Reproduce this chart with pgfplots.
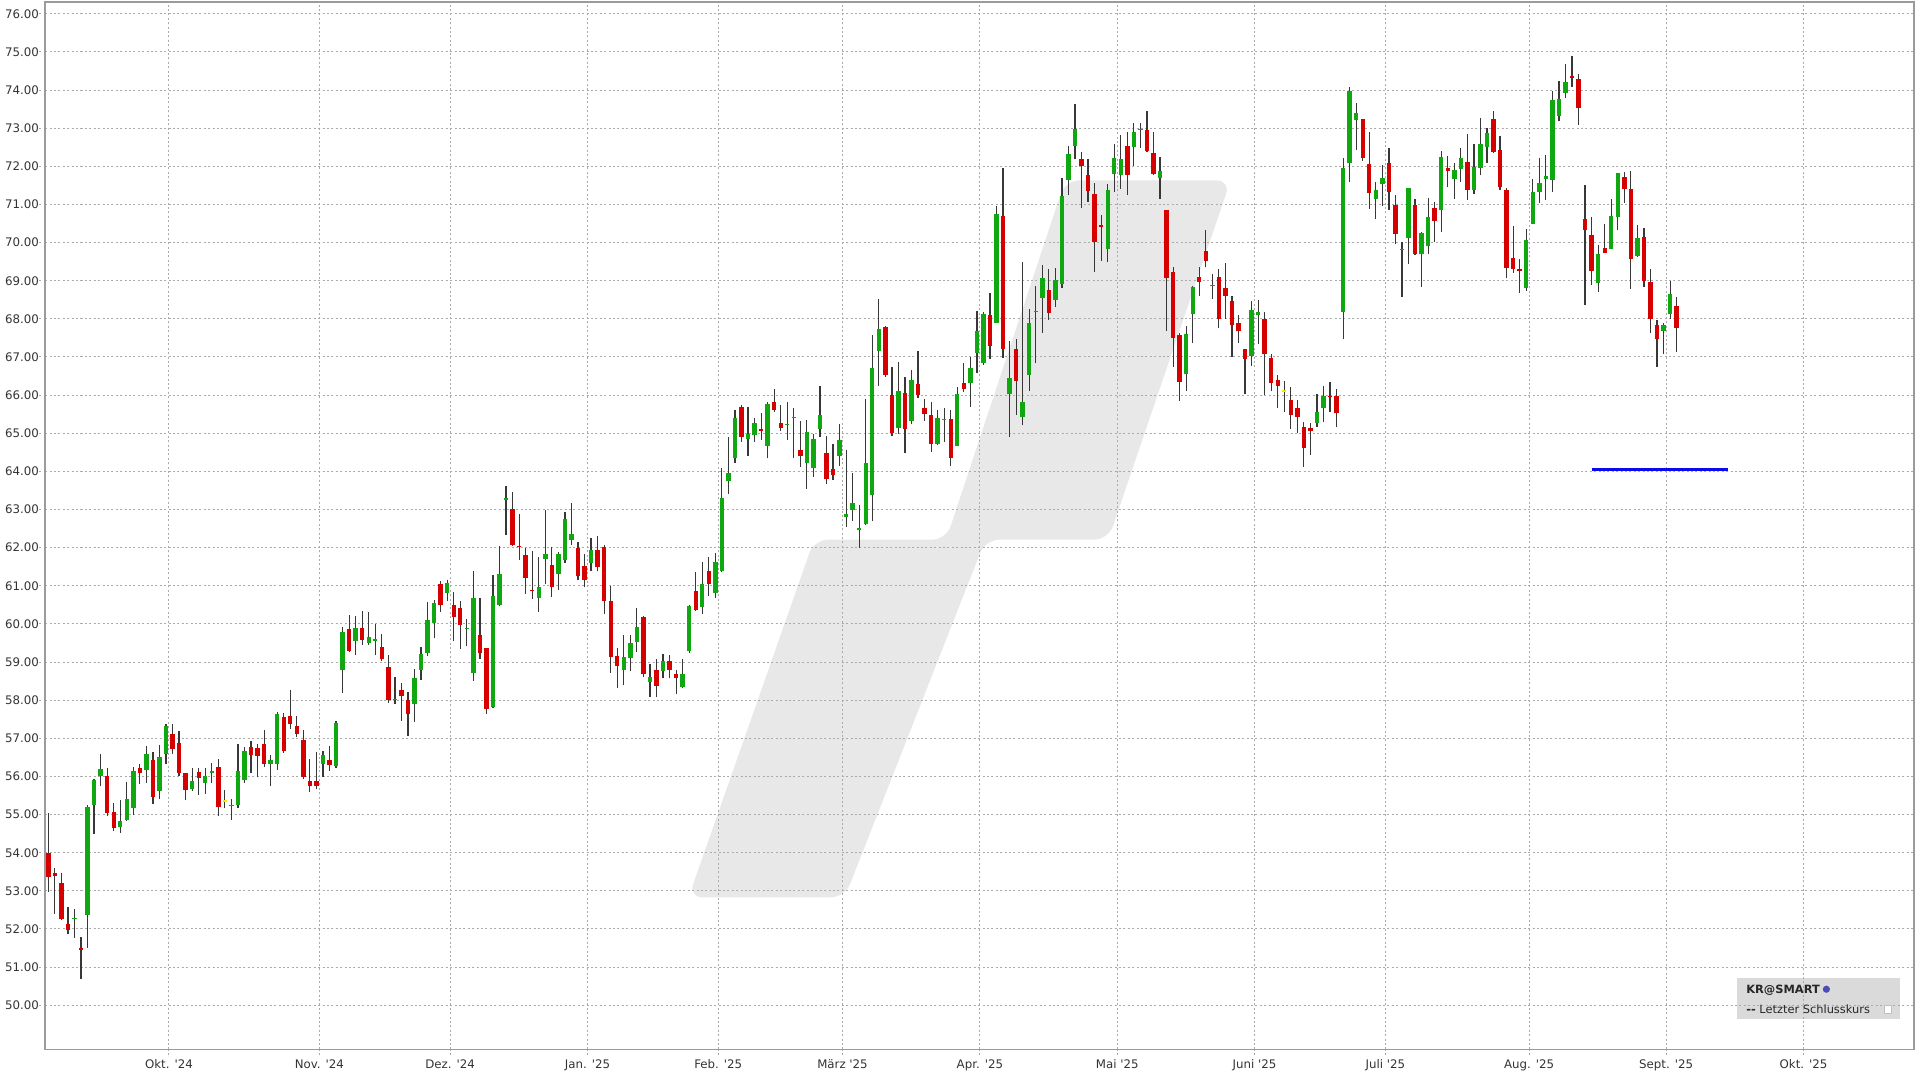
\documentclass[border=0pt]{standalone}
\usepackage{fontspec}
\setmainfont{DejaVu Sans}
\usepackage{pgfplots}
\pgfplotsset{compat=1.18}
\usepackage{pgfplotstable}
\definecolor{cgreen}{RGB}{16,168,16}
\definecolor{cred}{RGB}{214,0,0}
\definecolor{cwick}{RGB}{55,55,55}
\definecolor{cyel}{RGB}{250,230,0}
\definecolor{gridc}{RGB}{170,170,170}
\definecolor{framec}{RGB}{155,155,155}
\definecolor{wm}{RGB}{232,232,232}
\definecolor{legbg}{RGB}{218,218,218}
\definecolor{cblue}{RGB}{10,10,235}
\newcommand{\q}{\textquotesingle}

\pgfplotstableread{
x o h l c
1 53.98 55.04 52.97 53.36
2 53.47 53.60 52.40 53.40
3 53.21 53.47 52.23 52.26
4 52.12 52.58 51.88 51.98
5 52.25 52.52 51.77 52.30
6 51.50 51.79 50.69 51.46
7 52.38 55.24 51.51 55.20
8 55.26 55.94 54.50 55.92
9 56.00 56.60 55.74 56.20
10 56.02 56.22 54.96 55.03
11 55.06 55.31 54.57 54.65
12 54.68 55.38 54.52 54.82
13 54.85 55.86 54.83 55.40
14 55.18 56.25 54.98 56.14
15 56.22 56.32 55.80 56.08
16 56.18 56.79 55.83 56.59
17 56.43 56.64 55.27 55.46
18 55.61 56.82 55.42 56.50
19 56.58 57.37 56.32 57.32
20 57.11 57.37 56.58 56.71
21 56.88 57.19 56.01 56.09
22 56.08 56.10 55.38 55.64
23 55.68 56.22 55.62 55.87
24 56.11 56.22 55.52 55.97
25 55.83 56.22 55.55 56.01
26 56.08 56.34 55.83 56.15
27 56.25 56.47 54.96 55.20
28 55.36 55.64 55.16 55.36
29 55.22 55.42 54.87 55.26
30 55.26 56.85 55.18 56.14
31 55.92 56.78 55.83 56.66
32 56.78 56.93 56.09 56.55
33 56.75 56.86 55.98 56.54
34 56.84 57.21 56.25 56.33
35 56.32 56.57 55.74 56.42
36 56.33 57.69 56.18 57.63
37 57.56 57.67 56.61 56.66
38 57.58 58.28 57.25 57.37
39 57.33 57.58 57.04 57.11
40 56.96 57.23 55.94 55.98
41 55.89 56.46 55.59 55.75
42 55.87 56.64 55.66 55.76
43 56.32 56.67 55.98 56.55
44 56.42 56.79 56.14 56.29
45 56.27 57.46 56.23 57.39
46 58.79 59.93 58.19 59.80
47 59.86 60.24 59.27 59.30
48 59.56 60.21 59.18 59.89
49 59.89 60.35 59.45 59.58
50 59.51 60.32 59.45 59.67
51 59.56 59.99 59.18 59.60
52 59.40 59.74 59.04 59.07
53 58.88 59.18 57.93 58.00
54 58.00 58.61 57.89 58.03
55 58.28 58.46 57.46 58.11
56 58.00 58.22 57.05 57.63
57 57.91 58.83 57.43 58.59
58 58.79 59.40 58.54 59.21
59 59.23 60.57 59.16 60.11
60 60.02 60.63 59.62 60.54
61 61.05 61.12 60.30 60.50
62 60.82 61.14 60.59 61.07
63 60.50 60.84 59.56 60.17
64 60.42 60.61 59.34 59.96
65 59.86 60.12 59.42 59.90
66 58.72 61.39 58.51 60.69
67 59.71 60.68 59.08 59.23
68 59.38 59.38 57.65 57.76
69 57.82 61.29 57.80 60.72
70 60.50 62.04 60.47 61.32
71 63.26 63.61 62.32 63.30
72 63.02 63.47 62.05 62.08
73 62.05 62.89 61.68 62.02
74 61.82 61.99 60.79 61.20
75 60.90 61.92 60.65 60.87
76 60.68 61.75 60.30 60.96
77 61.70 62.98 61.05 61.83
78 61.55 62.02 60.70 60.96
79 61.32 61.88 60.88 61.84
80 61.68 62.93 61.61 62.75
81 62.21 63.16 62.08 62.36
82 61.99 62.15 61.14 61.25
83 61.53 61.84 60.96 61.16
84 61.61 62.25 61.40 61.95
85 61.95 62.30 61.38 61.48
86 62.01 62.08 60.26 60.61
87 60.61 61.00 58.72 59.14
88 59.16 59.36 58.31 58.90
89 58.79 59.71 58.39 59.12
90 59.11 59.71 58.76 59.51
91 59.52 60.43 59.27 59.93
92 60.19 60.22 58.60 58.68
93 58.47 58.96 58.09 58.61
94 58.79 59.07 58.09 58.37
95 58.77 59.21 58.57 59.03
96 59.03 59.18 58.57 58.79
97 58.70 58.79 58.16 58.57
98 58.35 59.07 58.33 58.70
99 59.30 60.50 59.24 60.47
100 60.87 61.37 60.34 60.36
101 60.45 61.63 60.27 61.06
102 61.39 61.76 60.73 61.04
103 60.80 61.85 60.69 61.63
104 61.39 64.08 61.37 63.31
105 63.75 64.89 63.42 63.95
106 64.34 65.61 64.23 65.41
107 65.69 65.73 64.78 64.91
108 64.85 65.69 64.40 64.98
109 64.95 65.41 64.78 65.27
110 65.10 65.52 64.82 65.06
111 64.66 65.83 64.34 65.78
112 65.83 66.15 65.56 65.62
113 65.28 65.74 65.06 65.14
114 65.22 65.83 64.82 65.25
115 65.40 65.65 64.34 65.43
116 64.56 65.33 64.12 64.40
117 64.21 65.36 63.55 65.04
118 64.08 64.98 63.86 64.86
119 65.10 66.24 64.89 65.48
120 64.47 64.92 63.67 63.79
121 64.05 64.73 63.77 63.90
122 64.40 65.24 64.14 64.82
123 62.81 64.56 62.55 62.87
124 63.00 63.95 62.70 63.16
125 62.46 63.13 62.00 62.52
126 62.63 65.89 62.60 64.21
127 63.37 67.57 62.69 66.72
128 67.17 68.51 66.24 67.74
129 67.79 67.81 66.48 66.52
130 66.00 66.74 64.92 65.01
131 65.14 66.87 64.99 66.10
132 66.06 66.48 64.47 65.12
133 65.32 66.67 65.23 66.39
134 66.28 67.16 65.93 66.00
135 65.65 65.90 65.32 65.51
136 65.49 65.83 64.50 64.73
137 64.73 65.62 64.68 65.41
138 65.36 65.65 64.78 65.38
139 65.38 65.62 64.15 64.35
140 64.66 66.22 64.66 66.03
141 66.31 66.85 66.09 66.15
142 66.32 67.00 65.69 66.70
143 67.11 68.20 66.59 67.68
144 66.83 68.18 66.80 68.12
145 68.10 68.67 66.95 67.28
146 67.90 70.96 67.90 70.74
147 70.69 71.95 66.98 67.22
148 66.02 67.42 64.91 66.46
149 67.22 67.48 65.49 66.38
150 65.43 69.50 65.21 65.83
151 66.52 68.26 66.12 67.90
152 68.18 68.86 66.83 68.20
153 68.55 69.40 67.63 69.06
154 68.77 69.32 67.96 68.15
155 68.50 69.33 68.32 69.02
156 68.91 71.70 68.80 71.21
157 71.65 72.53 71.25 72.33
158 72.53 73.64 72.18 72.98
159 72.18 72.37 70.91 72.02
160 71.77 72.18 71.06 71.36
161 71.27 71.56 69.23 70.02
162 70.46 70.72 69.52 70.42
163 69.83 71.54 69.48 71.39
164 71.80 72.59 71.34 72.21
165 71.78 72.81 71.41 72.19
166 72.54 72.89 71.25 71.77
167 72.50 73.13 72.02 72.90
168 72.95 73.13 72.47 72.99
169 72.96 73.46 72.37 72.39
170 72.35 72.89 71.77 71.80
171 71.70 72.24 71.14 71.87
172 70.86 70.86 67.68 69.06
173 69.24 69.37 66.75 67.49
174 67.57 67.62 65.85 66.35
175 66.55 67.80 66.11 67.60
176 68.12 68.87 67.38 68.84
177 69.10 69.37 68.60 68.97
178 69.77 70.33 69.35 69.52
179 68.86 69.17 68.52 68.90
180 69.10 69.32 67.75 67.99
181 68.82 69.46 67.99 68.60
182 68.46 68.59 67.01 67.83
183 67.90 68.10 67.36 67.68
184 67.20 67.20 66.02 66.96
185 67.03 68.47 66.77 68.24
186 68.10 68.49 67.33 68.17
187 67.99 68.17 66.00 67.07
188 66.98 67.09 66.10 66.33
189 66.39 66.53 65.67 66.25
190 66.11 66.37 65.56 66.11
191 65.87 66.22 65.11 65.48
192 65.65 65.87 65.00 65.42
193 65.17 65.30 64.12 64.62
194 65.13 65.28 64.43 65.06
195 65.28 66.02 65.16 65.55
196 65.65 66.24 65.29 65.98
197 65.98 66.35 65.56 65.94
198 65.98 66.16 65.16 65.52
199 68.19 72.21 67.47 71.96
200 72.10 74.09 71.60 73.97
201 73.21 73.65 72.43 73.39
202 73.23 73.23 72.14 72.23
203 72.06 72.91 70.88 71.29
204 71.14 71.60 70.63 71.38
205 71.53 72.03 70.97 71.70
206 72.08 72.47 70.85 71.33
207 70.98 71.26 69.96 70.22
208 69.80 70.02 68.58 69.84
209 70.11 71.44 69.45 71.42
210 70.98 71.14 69.67 69.70
211 69.69 70.28 68.84 70.24
212 69.92 71.16 69.70 70.66
213 70.90 71.07 70.02 70.57
214 70.85 72.40 70.27 72.25
215 71.95 72.27 71.45 71.88
216 71.68 72.08 71.14 71.90
217 71.92 72.49 71.59 72.23
218 72.11 72.86 71.12 71.38
219 71.38 72.59 71.27 71.99
220 71.96 73.28 71.77 72.59
221 72.52 73.01 72.10 72.88
222 73.25 73.45 72.34 72.38
223 72.43 72.80 71.38 71.47
224 71.38 71.44 69.06 69.34
225 69.60 70.43 69.21 69.30
226 69.30 69.56 68.68 69.26
227 68.81 70.35 68.73 70.08
228 70.50 71.67 70.50 71.33
229 71.33 72.23 71.03 71.57
230 71.68 72.31 71.12 71.75
231 71.64 73.98 71.33 73.74
232 73.32 74.24 73.19 73.76
233 73.92 74.68 73.80 74.21
234 74.36 74.90 74.09 74.32
235 74.30 74.41 73.09 73.54
236 70.61 71.50 68.36 70.33
237 70.21 70.67 68.88 69.26
238 68.95 69.95 68.70 69.69
239 69.86 70.50 69.73 69.73
240 69.82 71.15 69.82 70.71
241 70.67 71.83 70.33 71.83
242 71.72 71.85 71.05 71.41
243 71.40 71.88 68.79 69.56
244 69.66 70.46 69.63 70.11
245 70.14 70.39 68.84 68.99
246 68.97 69.31 67.62 68.00
247 67.83 67.98 66.74 67.46
248 67.69 67.88 67.08 67.83
249 68.14 68.99 68.00 68.64
250 68.35 68.58 67.13 67.76
}\ohlc

\begin{document}
\begin{tikzpicture}
\begin{axis}[
  name=ax, set layers,
  scale only axis, width=934.35pt, height=523.75pt,
  xmin=0.54, xmax=286.3, ymin=48.84, ymax=76.31,
  axis line style={framec, line width=0.8pt},
  grid=major,
  major grid style={gridc, line width=0.5pt, dash pattern=on 1pt off 1.2pt},
  tick align=outside, major tick length=3pt,
  xtick pos=left, ytick pos=left,
  tick style={gridc, line width=0.5pt, dash pattern=on 1pt off 1.2pt},
  ytick={50,51,...,76},
  xtick={19.45,42.45,62.45,83.45,103.45,122.45,143.45,164.45,185.45,205.45,227.45,248.4,269.4},
  xticklabels={Okt. \q24, Nov. \q24, Dez. \q24, Jan. \q25, Feb. \q25, März \q25, Apr. \q25, Mai \q25, Juni \q25, Juli \q25, Aug. \q25, Sept. \q25, Okt. \q25},
  /pgf/number format/fixed,
  /pgf/number format/fixed zerofill,
  /pgf/number format/precision=2,
  /pgf/number format/assume math mode=true,
  tick label style={font=\fontsize{5.9}{7}\selectfont, text=black!80},
  yticklabel style={inner sep=0pt, anchor=east},
  xticklabel style={inner sep=0pt, anchor=north, yshift=-2pt},
  clip=true,
]
% watermark logo
\addplot[draw=none, fill=wm, on layer=axis background, rounded corners=7pt, forget plot]
  coordinates {(98.9,52.83) (122.8,52.83) (144.3,62.21) (163.1,62.21) (181.8,71.63) (156.5,71.63) (138.3,62.21) (118.1,62.21)} -- cycle;
% legend box
\addplot[draw=none, fill=legbg, on layer=axis background, forget plot]
  coordinates {(259.2,49.64) (284.1,49.64) (284.1,50.72) (259.2,50.72)} -- cycle;
% wicks
\addplot[draw=none, mark=none, forget plot,
  error bars/.cd, y dir=plus, y explicit, error mark=none,
  error bar style={draw=cwick, line width=0.6pt, line cap=butt, solid}]
  table[x=x, y=l, y error expr={\thisrow{h}-\thisrow{l}}] {\ohlc};
% green bodies
\addplot[draw=none, mark=none, forget plot,
  error bars/.cd, y dir=plus, y explicit, error mark=none,
  error bar style={draw=cgreen, line width=2.2pt, line cap=butt, solid}]
  table[x=x, y=o, y error expr={max(\thisrow{c}-\thisrow{o},0)}] {\ohlc};
% red bodies
\addplot[draw=none, mark=none, forget plot,
  error bars/.cd, y dir=plus, y explicit, error mark=none,
  error bar style={draw=cred, line width=2.2pt, line cap=butt, solid}]
  table[x=x, y=c, y error expr={max(\thisrow{o}-\thisrow{c},0)}] {\ohlc};
% doji (yellow)
\addplot[draw=none, mark=none, forget plot,
  error bars/.cd, y dir=plus, y explicit, error mark=none,
  error bar style={draw=cyel, line width=2.2pt, line cap=butt, solid}]
  table[x=x, y expr={\thisrow{c}-0.025}, y error expr={ifthenelse(\thisrow{o}==\thisrow{c},0.05,0)}] {\ohlc};
% last close line
\addplot[cblue, line width=1.5pt, mark=none, forget plot] coordinates {(237.0,64.05) (257.8,64.05)};
% legend text
\node[anchor=west, inner sep=0pt, font=\bfseries\fontsize{5.7}{6}\selectfont, text=black!85] at (axis cs:260.6,50.40) {KR@SMART};
\fill[blue!60!black!70] (axis cs:272.9,50.42) circle[radius=1.8pt];
\node[anchor=west, inner sep=0pt, font=\fontsize{5.7}{6}\selectfont, text=black!85] at (axis cs:260.6,49.895) {\textbf{-{}-} Letzter Schlusskurs};
\draw[gray!50, fill=white, line width=0.3pt] (axis cs:281.8,49.80) rectangle (axis cs:282.8,49.99);
\end{axis}
\path (ax.south west) ++(-22.65pt,-15.25pt) rectangle ++(960pt,540pt);
\end{tikzpicture}
\end{document}
